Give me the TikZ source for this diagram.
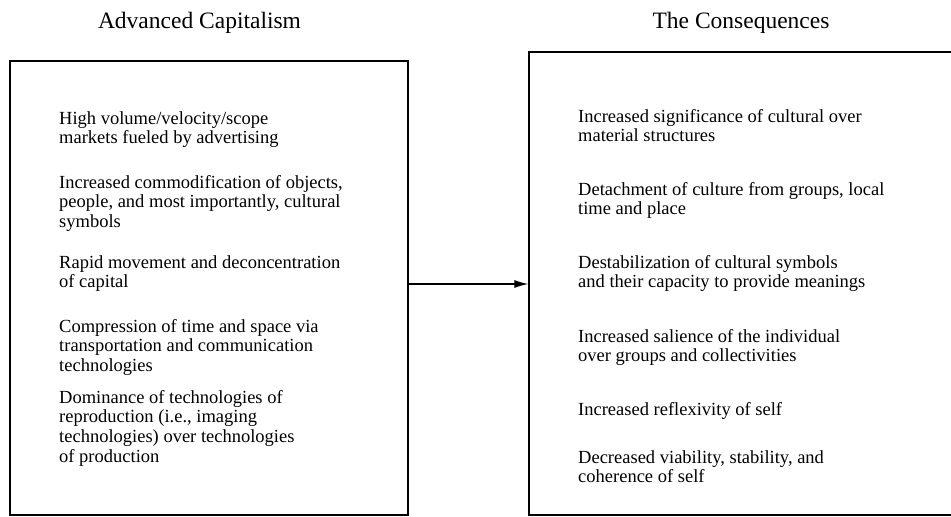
\documentclass[tikz,border=0pt]{standalone}
\usepackage{fontspec}
\setmainfont{Liberation Serif}
\usetikzlibrary{arrows.meta}
\begin{document}
\begin{tikzpicture}[x=1pt,y=-1pt,
  frame/.style={draw=black, line width=1.3pt, inner sep=0pt, minimum width=#1},
  heading/.style={anchor=base, inner sep=0pt, font=\fontsize{23.5}{26}\selectfont},
  item/.style={anchor=base west, inner sep=0pt, align=left, font=\fontsize{18.5}{19.8}\selectfont},
  link/.style={line width=1.3pt, -{Latex[length=14pt,width=8pt]}}
]
\useasboundingbox (0,0) rectangle (951,517);
\clip (0,0) rectangle (951,517);
% boxes
\node[frame=398pt, minimum height=454pt] (L) at (209,288) {};
\node[frame=426pt, minimum height=463pt] (R) at (742,283.5) {};
% titles
\node[heading] (tl) at (199.5,28) {Advanced Capitalism};
\node[heading] (tr) at (741,28) {The Consequences};
% left items (positioned at the baseline of their last line)
\node[item] (l1) at (59,143.8) {High volume/velocity/scope\\markets fueled by advertising};
\node[item] (l2) at (59,227.6) {Increased commodification of objects,\\people, and most importantly, cultural\\symbols};
\node[item] (l3) at (59,287.8) {Rapid movement and deconcentration\\of capital};
\node[item] (l4) at (59,371.6) {Compression of time and space via\\transportation and communication\\technologies};
\node[item] (l5) at (59,462.4) {Dominance of technologies of\\reproduction (i.e., imaging\\technologies) over technologies\\of production};
% right items
\node[item] (r1) at (578,141.8) {Increased significance of cultural over\\material structures};
\node[item] (r2) at (578,214.8) {Detachment of culture from groups, local\\time and place};
\node[item] (r3) at (578,287.8) {Destabilization of cultural symbols\\and their capacity to provide meanings};
\node[item] (r4) at (578,361.8) {Increased salience of the individual\\over groups and collectivities};
\node[item] (r5) at (578,415) {Increased reflexivity of self};
\node[item] (r6) at (578,482.8) {Decreased viability, stability, and\\coherence of self};
% connector
\coordinate (ay) at (0,284);
\draw[link] (L.east |- ay) -- (R.west |- ay);
\end{tikzpicture}
\end{document}
